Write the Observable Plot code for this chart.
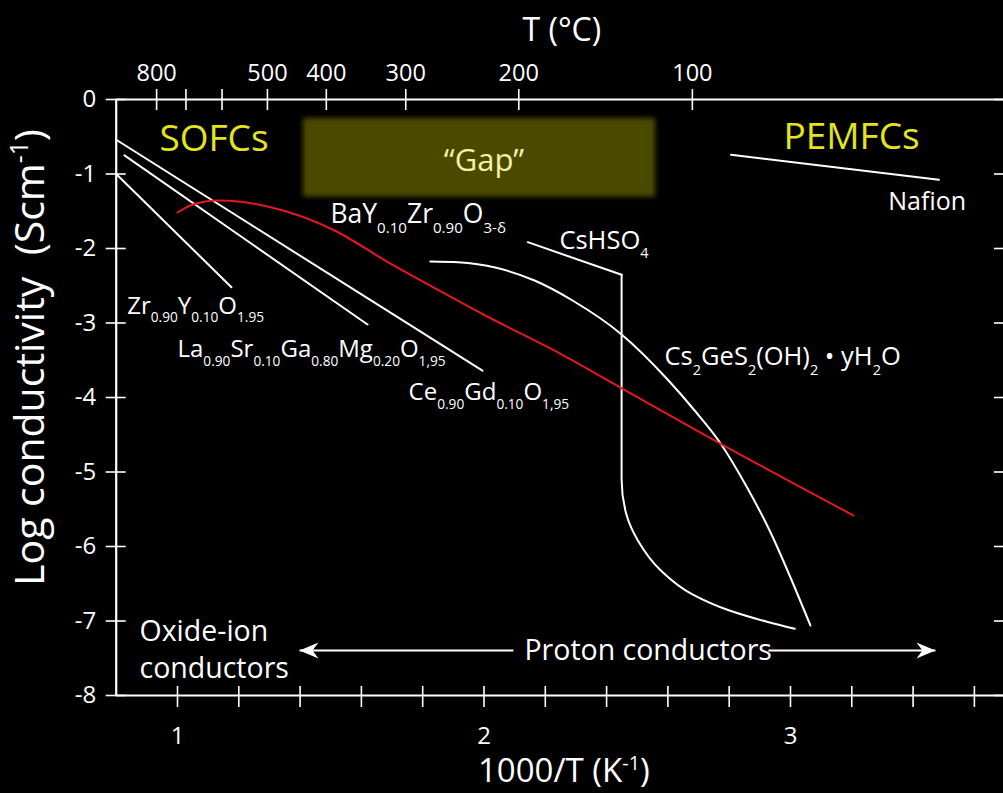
<!DOCTYPE html>
<html>
<head>
<meta charset="utf-8">
<script src="https://cdn.jsdelivr.net/npm/d3@7"></script>
<script src="https://cdn.jsdelivr.net/npm/@observablehq/plot@0.6"></script>
<style>
html, body { margin: 0; padding: 0; background: #000; }
#chart svg { display: block; }
</style>
</head>
<body>
<div id="chart"></div>
<script>
// ---------------- data ----------------
const xMinorTicks = [1.0, 1.2, 1.4, 1.6, 1.8, 2.0, 2.2, 2.4, 2.6, 2.8, 3.0, 3.2, 3.4, 3.6];
const xLabelTicks = [1, 2, 3];
const yTicks = [0, -1, -2, -3, -4, -5, -6, -7, -8];
const yTickLabels = ["0", "-1", "-2", "-3", "-4", "-5", "-6", "-7", "-8"];
const tempTicksC = [800, 700, 600, 500, 400, 300, 200, 100];
const tempLabelsC = [800, 500, 400, 300, 200, 100];

// conductivity lines (x = 1000/T, y = log sigma)
const zrYO = [{x: 0.800, y: -1.00}, {x: 1.176, y: -2.52}];
const lsgmO = [{x: 0.827, y: -0.75}, {x: 1.620, y: -3.02}];
const cgoO = [{x: 0.800, y: -0.54}, {x: 1.995, y: -3.64}];
const bazyO = [
  {x: 1.000, y: -1.517}, {x: 1.042, y: -1.423}, {x: 1.091, y: -1.369}, {x: 1.130, y: -1.356},
  {x: 1.206, y: -1.373}, {x: 1.294, y: -1.436}, {x: 1.401, y: -1.564}, {x: 1.509, y: -1.752},
  {x: 1.705, y: -2.228}, {x: 1.835, y: -2.523}, {x: 1.998, y: -2.886},
  {x: 2.217, y: -3.342}, {x: 2.445, y: -3.866}, {x: 2.759, y: -4.591}, {x: 3.206, y: -5.584}
];
const cs2GeS2 = [
  {x: 1.825, y: -2.174}, {x: 1.915, y: -2.185}, {x: 2.040, y: -2.259}, {x: 2.165, y: -2.430},
  {x: 2.289, y: -2.698}, {x: 2.449, y: -3.154}, {x: 2.602, y: -3.772}, {x: 2.690, y: -4.188},
  {x: 2.772, y: -4.617}, {x: 2.853, y: -5.168}, {x: 2.935, y: -5.812}, {x: 3.000, y: -6.416},
  {x: 3.065, y: -7.060}
];
const cshso4Upper = [{x: 2.143, y: -1.915}, {x: 2.449, y: -2.353}];
const cshso4Lower = [
  {x: 2.449, y: -2.353}, {x: 2.449, y: -4.850}, {x: 2.449, y: -5.101}, {x: 2.464, y: -5.561},
  {x: 2.502, y: -5.919}, {x: 2.577, y: -6.322}, {x: 2.677, y: -6.635}, {x: 2.801, y: -6.859},
  {x: 2.926, y: -7.013}, {x: 3.014, y: -7.105}
];
const nafion = [{x: 2.806, y: -0.742}, {x: 3.484, y: -1.078}];

// annotations (data coordinates)
const gapBox = [{x1: 1.411, x2: 2.560, y1: -0.255, y2: -1.310}];
const gapLabel = [{x: 2.000, y: -0.820, text: "“Gap”"}];
const cellLabels = [{x: 0.941, y: -0.685, text: "SOFCs"}, {x: 2.977, y: -0.658, text: "PEMFCs"}];
const nafionLabel = [{x: 3.319, y: -1.477, text: "Nafion"}];
const bazyLabel = [{x: 1.499, y: -1.664, text: "BaY_{0.10}Zr_{0.90}O_{3-δ}"}];
const cshso4Label = [{x: 2.246, y: -2.000, text: "CsHSO_{4}"}];
const oxideFormulaLabels = [
  {x: 0.836, y: -2.877, text: "Zr_{0.90}Y_{0.10}O_{1.95}"},
  {x: 1.000, y: -3.459, text: "La_{0.90}Sr_{0.10}Ga_{0.80}Mg_{0.20}O_{1,95}"},
  {x: 1.754, y: -4.040, text: "Ce_{0.90}Gd_{0.10}O_{1,95}"}
];
const cs2Label = [{x: 2.589, y: -3.570, text: "Cs_{2}GeS_{2}(OH)_{2} • yH_{2}O"}];
const oxideIonLabel = [{x: 0.876, y: -7.262, text: "Oxide-ion"}, {x: 0.876, y: -7.768, text: "conductors"}];
const protonLabel = [{x: 2.132, y: -7.517, text: "Proton conductors"}];
const arrowShafts = [{x1: 1.398, x2: 2.096, y: -7.396}, {x1: 2.928, x2: 3.473, y: -7.396}];
const arrowTipsLeft = [{x: 1.398, y: -7.396}];
const arrowTipsRight = [{x: 3.473, y: -7.396}];

const xTitle = "1000/T (K^{-1})";
const yTitle = "Log conductivity\u00a0\u00a0(Scm^{-1})";
const topTitle = "T (°C)";

// ---------------- chart ----------------
const tempTickPos = tempTicksC.map(t => 1000 / (t + 273.15));
const tempLabelPos = tempLabelsC.map(t => 1000 / (t + 273.15));
const tempLabelMap = new Map(tempLabelPos.map((p, i) => [p, String(tempLabelsC[i])]));
const yLabelMap = new Map(yTicks.map((v, i) => [v, yTickLabels[i]]));

const arrowHead = {
  draw(ctx, size) {
    const k = Math.sqrt(size / Math.PI) / 8;
    ctx.moveTo(0, 0);
    ctx.lineTo(-19 * k, -8 * k);
    ctx.lineTo(-13 * k, 0);
    ctx.lineTo(-19 * k, 8 * k);
    ctx.closePath();
  }
};

const txt = (data, fontSize, fill = "#fff", extra = {}) =>
  Plot.text(data, {x: "x", y: "y", text: "text", fontSize, fill, textAnchor: "start", lineAnchor: "bottom", ...extra});

const plot = Plot.plot({
  width: 1003,
  height: 793,
  marginLeft: 115.7,
  marginRight: 0,
  marginTop: 99,
  marginBottom: 98,
  style: {background: "#000", color: "#fff", fontFamily: "'Open Sans', sans-serif"},
  x: {domain: [0.8, 3.695]},
  y: {domain: [-8, 0]},
  marks: [
    Plot.rect(gapBox, {x1: "x1", x2: "x2", y1: "y1", y2: "y2", fill: "#4b4900"}),
    Plot.text(gapLabel, {x: "x", y: "y", text: "text", fontSize: 31, fill: "#f4f2a2", textAnchor: "middle", lineAnchor: "middle"}),

    // frame lines
    Plot.ruleY([0, -8], {stroke: "#fff", strokeWidth: 2.2}),
    Plot.ruleX([0.8], {y1: -8, y2: 0, stroke: "#fff", strokeWidth: 2.2}),

    // bottom axis
    Plot.axisX({anchor: "bottom", ticks: xMinorTicks, tickSize: 21, dy: -9, tickFormat: () => "", label: null, strokeWidth: 1.6}),
    Plot.axisX({anchor: "bottom", ticks: xLabelTicks, tickSize: 0, tickPadding: 31, tickFormat: d => String(d), fontSize: 24, label: null}),
    // top axis (temperature)
    Plot.axisX({anchor: "top", ticks: tempTickPos, tickSize: 21, dy: 10, tickFormat: () => "", label: null, strokeWidth: 1.6}),
    Plot.axisX({anchor: "top", ticks: tempLabelPos, tickSize: 0, tickPadding: 19, tickFormat: d => tempLabelMap.get(d), fontSize: 23.5, label: null}),
    // left axis
    Plot.axisY({anchor: "left", ticks: yTicks, tickSize: 20, dx: 10, tickFormat: () => "", label: null, strokeWidth: 1.6}),
    Plot.axisY({anchor: "left", ticks: yTicks, tickSize: 0, tickPadding: 20, tickFormat: d => yLabelMap.get(d), fontSize: 24, label: null}),
    // right axis ticks
    Plot.axisY({anchor: "right", ticks: yTicks, tickSize: 10, dx: -10, tickFormat: () => "", label: null, strokeWidth: 1.6}),

    // conductivity lines
    Plot.line(zrYO, {x: "x", y: "y", stroke: "#fff", strokeWidth: 2}),
    Plot.line(lsgmO, {x: "x", y: "y", stroke: "#fff", strokeWidth: 2}),
    Plot.line(cgoO, {x: "x", y: "y", stroke: "#fff", strokeWidth: 2}),
    Plot.line(nafion, {x: "x", y: "y", stroke: "#fff", strokeWidth: 2}),
    Plot.line(cshso4Upper, {x: "x", y: "y", stroke: "#fff", strokeWidth: 2}),
    Plot.line(cshso4Lower, {x: "x", y: "y", stroke: "#fff", strokeWidth: 2, curve: "monotone-y"}),
    Plot.line(cs2GeS2, {x: "x", y: "y", stroke: "#fff", strokeWidth: 2, curve: "monotone-x"}),
    Plot.line(bazyO, {x: "x", y: "y", stroke: "#e3191c", strokeWidth: 2, curve: "monotone-x"}),

    // arrows
    Plot.link(arrowShafts, {x1: "x1", x2: "x2", y1: "y", y2: "y", stroke: "#fff", strokeWidth: 2}),
    Plot.dot(arrowTipsLeft, {x: "x", y: "y", symbol: arrowHead, r: 8, fill: "#fff", stroke: null, rotate: 180}),
    Plot.dot(arrowTipsRight, {x: "x", y: "y", symbol: arrowHead, r: 8, fill: "#fff", stroke: null, rotate: 0}),

    // labels
    txt(cellLabels, 37, "#e4e41c"),
    txt(nafionLabel, 25),
    txt(bazyLabel, 26.5),
    txt(cshso4Label, 25.5),
    txt(oxideFormulaLabels, 24),
    txt(cs2Label, 25.5),
    txt(oxideIonLabel, 28.5),
    txt(protonLabel, 28.5),

    // titles
    Plot.text([topTitle], {frameAnchor: "top", dx: 2, dy: -69, fontSize: 32, textAnchor: "middle", lineAnchor: "middle", fill: "#fff"}),
    Plot.text([xTitle], {frameAnchor: "bottom", dx: 4, dy: 76, fontSize: 33, textAnchor: "middle", lineAnchor: "middle", fill: "#fff"}),
    Plot.text([yTitle], {frameAnchor: "left", dx: -85.7, dy: -40, rotate: -90, fontSize: 41, textAnchor: "middle", lineAnchor: "middle", fill: "#fff"})
  ]
});

document.getElementById("chart").appendChild(plot);

// blur the "Gap" box edges
const NS = "http://www.w3.org/2000/svg";
const defs = document.createElementNS(NS, "defs");
defs.innerHTML = '<filter id="gapBlur" x="-10%" y="-20%" width="120%" height="140%"><feGaussianBlur stdDeviation="2.5"/></filter>';
plot.insertBefore(defs, plot.firstChild);
plot.querySelectorAll('[fill="#4b4900"]').forEach(g => g.setAttribute("filter", "url(#gapBlur)"));

// rich text: _{sub} and ^{sup}
function richify(el) {
  const raw = el.textContent;
  if (!/[_^]\{/.test(raw)) return;
  const fs = parseFloat(getComputedStyle(el).fontSize);
  const parts = raw.split(/(_\{[^}]*\}|\^\{[^}]*\})/).filter(s => s.length);
  while (el.firstChild) el.removeChild(el.firstChild);
  let cur = 0;
  for (const p of parts) {
    const ts = document.createElementNS(NS, "tspan");
    let target = 0, t = p, size = null;
    if (p.startsWith("_{")) { target = fs * 0.36; t = p.slice(2, -1); size = fs * 0.57; }
    else if (p.startsWith("^{")) { target = -fs * 0.38; t = p.slice(2, -1); size = fs * 0.6; }
    if (target - cur !== 0) ts.setAttribute("dy", (target - cur).toFixed(2));
    cur = target;
    if (size) ts.setAttribute("font-size", size.toFixed(2));
    ts.textContent = t;
    el.appendChild(ts);
  }
}
plot.querySelectorAll("text").forEach(richify);
</script>
</body>
</html>
